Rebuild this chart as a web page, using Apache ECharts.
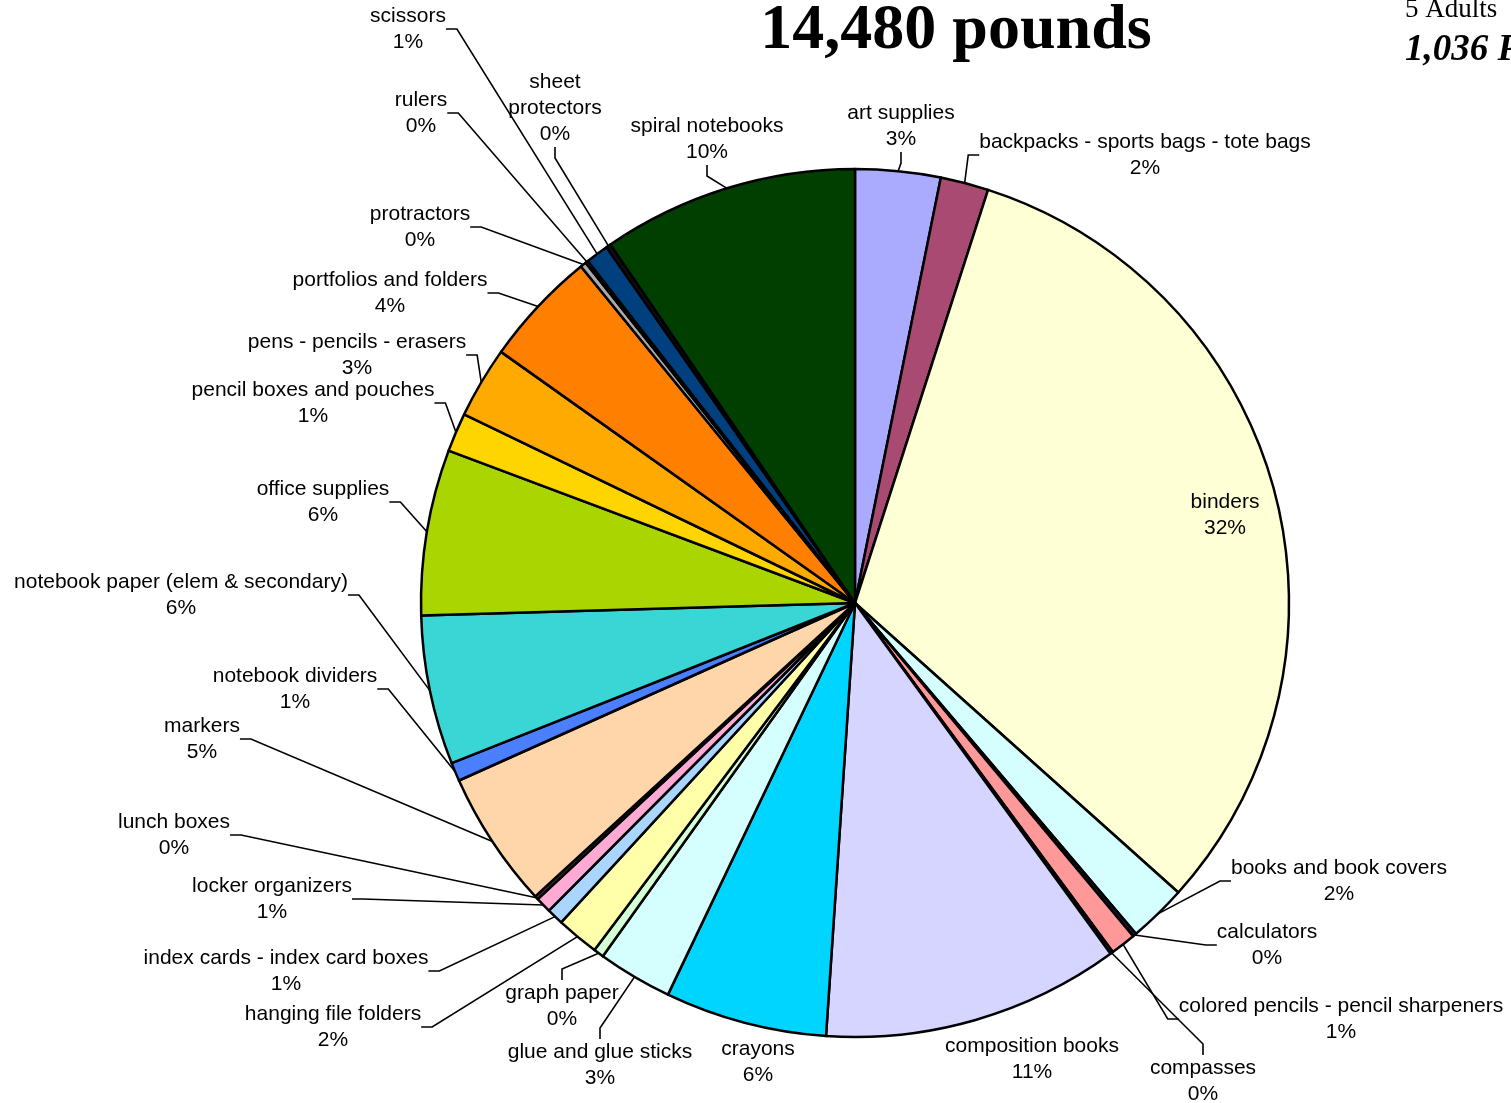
<!DOCTYPE html>
<html>
<head>
<meta charset="utf-8">
<script src="https://cdn.jsdelivr.net/npm/echarts@6/dist/echarts.min.js"></script>
<style>
html,body{margin:0;padding:0;background:#fff;}
#chart{width:1511px;height:1103px;}
</style>
</head>
<body>
<div id="chart"></div>
<script>
// ---- data ----
const categories = [
  'art supplies','backpacks - sports bags - tote bags','binders','books and book covers','calculators',
  'colored pencils - pencil sharpeners','compasses','composition books','crayons','glue and glue sticks',
  'graph paper','hanging file folders','index cards - index card boxes','locker organizers','lunch boxes',
  'markers','notebook dividers','notebook paper (elem & secondary)','office supplies','pencil boxes and pouches',
  'pens - pencils - erasers','portfolios and folders','protractors','rulers','scissors','sheet protectors','spiral notebooks'
];
const pounds = [
  459, 259, 4585, 314, 20,
  137, 15, 1605, 873, 402,
  55, 230, 90, 85, 20,
  740, 100, 805, 893, 209,
  386, 623, 32, 15, 123, 25, 1380
];
const sliceColors = [
  '#AAAAFF','#A94A73','#FFFFD5','#D5FFFF','#1A1A4A',
  '#FF9999','#333366','#D5D5FF','#00D5FF','#D5FFFF',
  '#D5FFD5','#FFFFAA','#AAD5FF','#FFAAD5','#4A2A4A',
  '#FFD5AA','#4A7FFF','#3AD5D5','#AAD500','#FFD500',
  '#FFAA00','#FF7F00','#AAAAAA','#222222','#00407F','#111111','#003F00'
];
const titleText = '14,480 pounds';
const sideLine1 = '5 Adults';
const sideLine2 = '1,036 Pounds';

// ---- label layout (label block centres) ----
const labelX = [901,1145,1225,1339,1267,1341,1203,1032,758,600,562,333,286,272,174,202,295,181,323,313,357,390,420,421,408,555,707];
const labelY = [126,155,515,881,945,1019,1081,1059,1062,1065,1006,1027,971,899,835,739,689,595,502,403,355,293,227,113,29,108,139];
const noLine = [2,7,8];

const chart = echarts.init(document.getElementById('chart'), null, {renderer:'canvas'});
const data = categories.map((c,i)=>({
  name:c, value:pounds[i],
  itemStyle:{color:sliceColors[i]},
  labelLine:{show: noLine.indexOf(i) < 0}
}));

chart.setOption({
  animation:false,
  backgroundColor:'#ffffff',
  graphic:[
    {type:'text', x:956, y:31, style:{text:titleText, align:'center', verticalAlign:'middle',
      font:'bold 64px "Liberation Serif", "Times New Roman", serif', fill:'#000'}},
    {type:'text', x:1405, y:10, style:{text:sideLine1, align:'left', verticalAlign:'middle',
      font:'27px "Liberation Serif", "Times New Roman", serif', fill:'#000'}},
    {type:'text', x:1405, y:50, style:{text:sideLine2, align:'left', verticalAlign:'middle',
      font:'italic bold 37px "Liberation Serif", "Times New Roman", serif', fill:'#000'}}
  ],
  series:[{
    type:'pie',
    center:[855,603],
    radius:434,
    startAngle:90,
    clockwise:true,
    avoidLabelOverlap:false,
    percentPrecision:2,
    itemStyle:{borderColor:'#000', borderWidth:2.5},
    label:{
      show:true,
      position:'outside',
      color:'#000',
      fontFamily:'"Liberation Sans", Arial, sans-serif',
      fontSize:21,
      lineHeight:26,
      align:'center',
      formatter:function(p){
        const nm = p.name === 'sheet protectors' ? 'sheet\nprotectors' : p.name;
        return nm + '\n' + Math.round(p.percent) + '%';
      }
    },
    labelLine:{show:true, length:10, length2:11, lineStyle:{color:'#000', width:1.6}},
    emphasis:{disabled:true},
    labelLayout:function(params){
      const i = params.dataIndex;
      return {x:labelX[i], y:labelY[i], align:'center', verticalAlign:'middle'};
    },
    data:data
  }]
});
</script>
</body>
</html>
